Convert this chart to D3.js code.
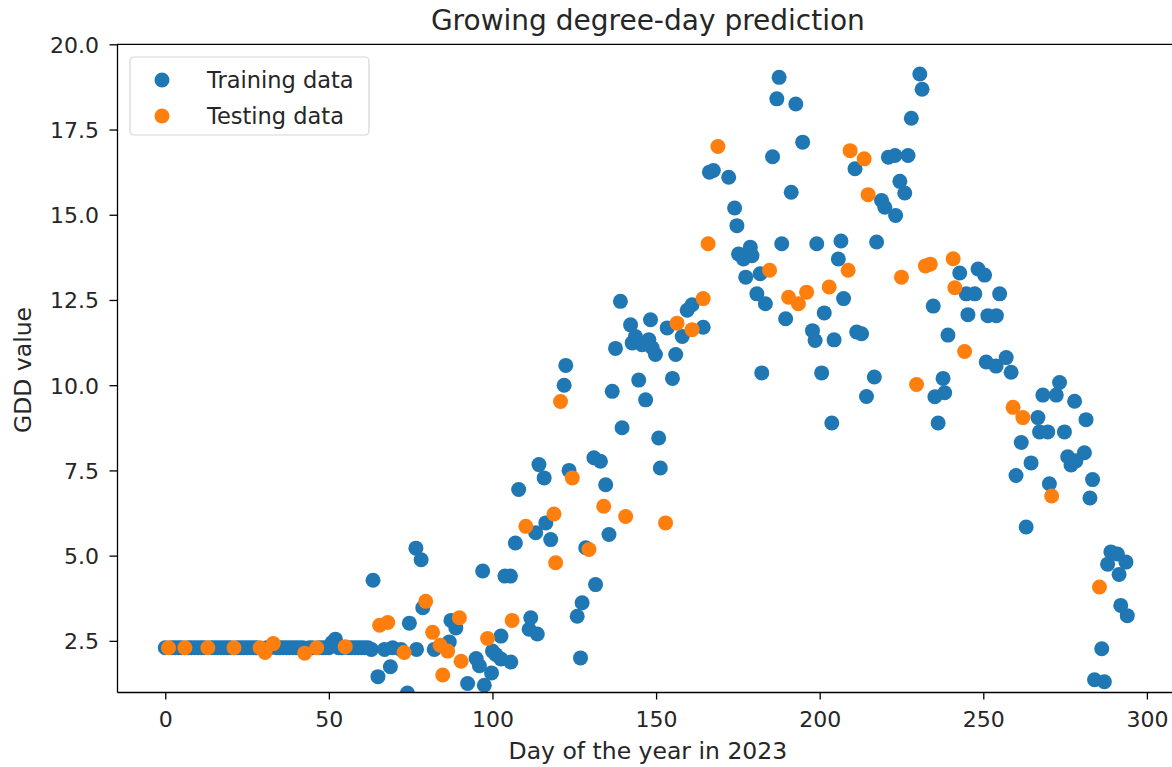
<!DOCTYPE html>
<html>
<head>
<meta charset="utf-8">
<script src="https://cdn.jsdelivr.net/npm/d3@7"></script>
<style>
    body { margin: 0; background: #fff; }
    text { font-family: "DejaVu Sans", sans-serif; fill: #262626; }
</style>
</head>
<body>
<svg id="chart" width="1172" height="767"></svg>
<script>
/* Data */
/* **** */

// [day of year, GDD value]
var trainPoints = [
    [0, 2.3], [2, 2.3], [3, 2.3], [4, 2.3], [5, 2.3], [7, 2.3], [8, 2.3], [9, 2.3], [10, 2.3],
    [11, 2.3], [12, 2.3], [14, 2.3], [15, 2.3], [16, 2.3], [17, 2.3], [18, 2.3], [19, 2.3],
    [20, 2.3], [22, 2.3], [23, 2.3], [24, 2.3], [25, 2.3], [26, 2.3], [27, 2.3], [28, 2.3],
    [31, 2.3], [32, 2.3], [34, 2.3], [35, 2.3], [36, 2.3], [37, 2.3], [38, 2.3], [39, 2.3],
    [40, 2.3], [41, 2.3], [42, 2.3], [44, 2.3], [45, 2.3], [47, 2.3], [48, 2.3], [49, 2.3],
    [50, 2.3], [51, 2.45], [52, 2.55], [53, 2.3], [54, 2.3], [56, 2.3], [57, 2.3], [58, 2.3],
    [59, 2.3], [60, 2.3], [61, 2.3], [62, 2.3],
    [63, 2.25], [63.5, 4.28], [65, 1.45], [67, 2.25], [68.8, 1.74], [69.5, 2.3], [72, 2.25],
    [74, 0.97], [74.6, 3.02], [76.6, 5.22], [76.8, 2.25], [78.2, 4.88], [78.7, 3.47],
    [82.2, 2.25], [86.8, 2.47], [87.3, 3.1], [88.8, 2.88], [92.4, 1.25], [95, 1.98],
    [96, 1.77], [97, 4.55], [97.5, 1.2], [99.7, 1.56], [100, 2.2], [101, 2.1], [102.6, 2.64],
    [102.6, 1.97], [103.8, 4.4], [105.5, 4.4], [105.6, 1.88], [107, 5.37], [108, 6.94],
    [111.2, 2.84], [111.7, 3.18], [113.2, 5.67], [113.7, 2.7], [114.2, 7.67], [115.8, 7.28],
    [116.3, 5.96], [117.8, 5.47], [121.9, 10.0], [122.4, 10.58], [123.4, 7.5], [125.9, 3.22],
    [126.9, 2.0], [127.4, 3.62], [128.5, 5.23], [131, 7.87], [131.5, 4.15], [133, 7.77],
    [134.6, 7.08], [135.6, 5.62], [136.6, 9.82], [137.6, 11.08], [139.1, 12.46], [139.6, 8.75],
    [142.2, 11.77], [142.7, 11.24], [143.7, 11.43], [144.7, 10.15], [145.7, 11.19],
    [146.8, 9.57], [147.8, 11.33], [148.3, 11.92], [148.8, 11.1], [149.8, 10.9], [150.8, 8.45],
    [151.3, 7.57], [153.4, 11.68], [155, 10.2], [156, 10.9], [158, 11.43], [159.5, 12.2],
    [161, 12.36], [164.4, 11.7], [166.3, 16.25], [167.5, 16.3], [172.2, 16.1], [174, 15.2],
    [174.7, 14.68], [175.2, 13.85], [176.7, 13.7], [177.4, 13.17], [178.8, 14.05],
    [179.3, 13.8], [180.8, 12.68], [181.8, 13.27], [182.3, 10.36], [183.4, 12.39],
    [185.6, 16.7], [186.9, 18.4], [187.6, 19.03], [188.4, 14.15], [189.6, 11.95],
    [191.3, 15.66], [192.7, 18.25], [194.8, 17.13], [197.8, 11.6], [198.6, 11.31],
    [199.1, 14.15], [200.6, 10.36], [201.4, 12.12], [203.7, 8.89], [204.4, 11.33],
    [205.7, 13.7], [206.5, 14.23], [207.3, 12.54], [210.8, 16.35], [211.3, 11.56],
    [212.8, 11.51], [214.3, 9.67], [216.7, 10.24], [217.4, 14.2], [218.9, 15.42],
    [219.9, 15.22], [221, 16.69], [223, 16.74], [223.2, 14.98], [224.5, 15.98], [226, 15.64],
    [227, 16.74], [228, 17.83], [230.6, 19.13], [231.3, 18.68], [234.7, 12.32], [235.2, 9.66],
    [236.2, 8.89], [237.7, 10.2], [238.2, 9.78], [239.2, 11.47], [242.8, 13.29],
    [244.8, 12.68], [245.3, 12.07], [247.4, 12.68], [248.4, 13.41], [250.4, 13.23],
    [250.9, 10.68], [251.4, 12.04], [253.9, 10.56], [254, 12.04], [255, 12.68], [257, 10.81],
    [258.5, 10.38], [260, 7.35], [261.6, 8.32], [263.1, 5.84], [264.6, 7.72], [266.7, 9.05],
    [267.2, 8.63], [268.2, 9.71], [269.7, 8.63], [270.2, 7.11], [272.3, 9.71], [273.3, 10.08],
    [274.8, 8.63], [275.8, 7.9], [276.8, 7.66], [277.9, 9.53], [278.3, 7.78], [280.9, 8.02],
    [281.4, 8.99], [282.6, 6.69], [283.4, 7.23], [284, 1.36], [286.2, 2.27], [287, 1.3],
    [288, 4.75], [289, 5.11], [291, 5.05], [291.5, 4.45], [292, 3.54], [293.6, 4.81],
    [294, 3.24]
];

var testPoints = [
    [1, 2.3], [6, 2.3], [13, 2.3], [21, 2.3], [29, 2.3], [30.5, 2.16], [33, 2.42],
    [42.6, 2.14], [46.3, 2.3], [55, 2.33], [65.5, 2.96], [68, 3.04], [73, 2.16],
    [79.6, 3.66], [81.7, 2.75], [84, 2.37], [84.8, 1.5], [86.3, 2.2], [89.9, 3.18],
    [90.4, 1.9], [98.5, 2.57], [106, 3.1], [110.2, 5.86], [118.8, 6.22], [119.3, 4.79],
    [120.8, 9.52], [124.4, 7.28], [129.5, 5.18], [134, 6.45], [140.7, 6.15], [152.9, 5.96],
    [156.4, 11.82], [161, 11.63], [164.4, 12.54], [165.9, 14.15], [168.9, 17.0],
    [184.7, 13.37], [190.5, 12.58], [193.5, 12.39], [196, 12.73], [202.9, 12.88],
    [208.7, 13.37], [209.3, 16.88], [213.6, 16.64], [214.8, 15.59], [225, 13.17],
    [229.6, 10.02], [232.3, 13.5], [233.8, 13.55], [240.8, 13.71], [241.3, 12.86],
    [244.3, 10.99], [259.1, 9.35], [262.1, 9.05], [270.9, 6.75], [285.5, 4.08]
];

var xTicks = [0, 50, 100, 150, 200, 250, 300];
var yTicks = [2.5, 5.0, 7.5, 10.0, 12.5, 15.0, 17.5, 20.0];
var seriesNames = ['Training data', 'Testing data'];


/* Layout */
/* ****** */
var colors = ['#1f77b4', '#ff7f0e'];
var box = { left: 117, right: 1178.8, top: 44.3, bottom: 692 };
var dotRadius = 7.5;

var svg = d3.select('#chart');

var x = d3.scaleLinear()
    .domain([-14.75, 309.75])
    .range([box.left, box.right]);

var y = d3.scaleLinear()
    .domain([1, 20])
    .range([box.bottom, box.top]);

svg.append('defs')
    .append('clipPath')
    .attr('id', 'plot-clip')
    .append('rect')
    .attr('x', box.left)
    .attr('y', box.top)
    .attr('width', box.right - box.left)
    .attr('height', box.bottom - box.top);

// Points, training first so testing sits on top
var pointsGroup = svg.append('g')
    .attr('clip-path', 'url(#plot-clip)');

[trainPoints, testPoints].forEach(function (points, i) {
    pointsGroup.append('g')
        .selectAll('circle')
        .data(points)
        .enter()
        .append('circle')
        .attr('cx', function (d) { return x(d[0]); })
        .attr('cy', function (d) { return y(d[1]); })
        .attr('r', dotRadius)
        .attr('fill', colors[i]);
});

// Axes
var xAxis = svg.append('g')
    .attr('transform', 'translate(0,' + box.bottom + ')')
    .call(d3.axisBottom(x)
        .tickValues(xTicks)
        .tickFormat(d3.format('d'))
        .tickSizeInner(7.5)
        .tickSizeOuter(0)
        .tickPadding(11.5));

var yAxis = svg.append('g')
    .attr('transform', 'translate(' + box.left + ',0)')
    .call(d3.axisLeft(y)
        .tickValues(yTicks)
        .tickFormat(d3.format('.1f'))
        .tickSizeInner(7.5)
        .tickSizeOuter(0)
        .tickPadding(10.5));

[xAxis, yAxis].forEach(function (axis) {
    axis.attr('font-family', null).attr('font-size', null);
    axis.select('.domain').attr('stroke', '#000').attr('stroke-width', 1.3);
    axis.selectAll('.tick line').attr('stroke', '#000').attr('stroke-width', 1.3);
    axis.selectAll('.tick text')
        .attr('fill', null)
        .style('font-size', '22px');
});
yAxis.selectAll('.tick text').attr('dy', '0.36em');

// Top and right spines
svg.append('line')
    .attr('x1', box.left).attr('x2', box.right)
    .attr('y1', box.top).attr('y2', box.top)
    .attr('stroke', '#000').attr('stroke-width', 1.3);
svg.append('line')
    .attr('x1', box.right).attr('x2', box.right)
    .attr('y1', box.top).attr('y2', box.bottom)
    .attr('stroke', '#000').attr('stroke-width', 1.3);

// Titles
var midX = (box.left + box.right) / 2;

svg.append('text')
    .attr('x', midX)
    .attr('y', 29.5)
    .attr('text-anchor', 'middle')
    .style('font-size', '28px')
    .text('Growing degree-day prediction');

svg.append('text')
    .attr('x', midX)
    .attr('y', 759)
    .attr('text-anchor', 'middle')
    .style('font-size', '23.5px')
    .text('Day of the year in 2023');

svg.append('text')
    .attr('transform', 'translate(31,370) rotate(-90)')
    .attr('text-anchor', 'middle')
    .style('font-size', '23.5px')
    .text('GDD value');

// Legend
var legend = svg.append('g')
    .attr('transform', 'translate(130,57)');

legend.append('rect')
    .attr('width', 239)
    .attr('height', 78)
    .attr('rx', 4)
    .attr('fill', '#fff')
    .attr('fill-opacity', 0.8)
    .attr('stroke', '#d6d6d6')
    .attr('stroke-width', 1.2);

seriesNames.forEach(function (name, i) {
    var row = legend.append('g')
        .attr('transform', 'translate(0,' + (23 + i * 36) + ')');
    row.append('circle')
        .attr('cx', 32)
        .attr('cy', 0)
        .attr('r', dotRadius)
        .attr('fill', colors[i]);
    row.append('text')
        .attr('x', 77)
        .attr('y', 8)
        .style('font-size', '22.5px')
        .text(name);
});
</script>
</body>
</html>
